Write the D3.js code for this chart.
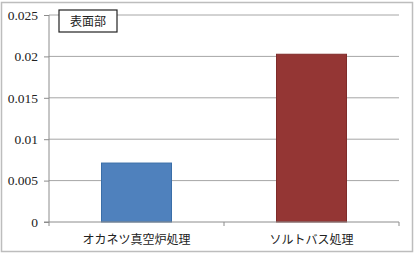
<!DOCTYPE html>
<html>
<head>
<meta charset="utf-8">
<script src="https://cdn.jsdelivr.net/npm/d3@7"></script>
<style>
  body { margin: 0; background: #fff; }
  svg { display: block; }
  .ytick text { font-family: "Liberation Serif", "Times New Roman", serif; font-size: 13.5px; }
</style>
</head>
<body>
<script>
var categories = ["オカネツ真空炉処理", "ソルトバス処理"];
var values = [0.00712, 0.02026];
var barColors = ["#4f81bd", "#943634"];
var barStroke = ["#3a6ea8", "#7f2b2a"];
var yTicks = [0, 0.005, 0.01, 0.015, 0.02, 0.025];
var legendLabel = "表面部";

var W = 420, H = 253;
var margin = {top: 15, right: 21, bottom: 31, left: 49},
    width = 399 - margin.left,
    height = 222 - margin.top;

var svg = d3.select("body").append("svg")
    .attr("width", W)
    .attr("height", H);

// outer frame
svg.append("rect")
    .attr("x", 1.5).attr("y", 2.5)
    .attr("width", 411).attr("height", 249)
    .attr("fill", "#fff")
    .attr("stroke", "#bdbdbd")
    .attr("stroke-width", 1.5);

var g = svg.append("g")
    .attr("transform", "translate(" + margin.left + "," + margin.top + ")");

var x = d3.scaleBand()
    .domain(categories)
    .range([0, width])
    .paddingInner(0.6)
    .paddingOuter(0.3);

var y = d3.scaleLinear()
    .domain([0, 0.025])
    .range([height, 0]);

// gridlines
g.selectAll("line.grid")
    .data(yTicks.filter(function(d) { return d > 0; }))
  .enter().append("line")
    .attr("class", "grid")
    .attr("x1", 0).attr("x2", width)
    .attr("y1", function(d) { return y(d); })
    .attr("y2", function(d) { return y(d); })
    .attr("stroke", "#a6a6a6")
    .attr("stroke-width", 1);

// bars
g.selectAll("rect.bar")
    .data(values)
  .enter().append("rect")
    .attr("class", "bar")
    .attr("x", function(d, i) { return x(categories[i]); })
    .attr("y", function(d) { return y(d); })
    .attr("width", x.bandwidth())
    .attr("height", function(d) { return height - y(d); })
    .attr("fill", function(d, i) { return barColors[i]; })
    .attr("stroke", function(d, i) { return barStroke[i]; })
    .attr("stroke-width", 1);

// y axis
var yAxis = g.append("g")
    .attr("class", "ytick")
    .call(d3.axisLeft(y).tickValues(yTicks).tickSize(5).tickPadding(6)
      .tickFormat(function(d) { return String(+d.toFixed(3)); }));
yAxis.attr("font-family", null).attr("font-size", null);
yAxis.select(".domain").attr("stroke", "#8c8c8c").attr("d", "M0," + height + "V0");
yAxis.selectAll(".tick line").attr("stroke", "#8c8c8c");
yAxis.selectAll("text")
    .attr("fill", "#222");

// x axis
var xEdges = [0, width / 2, width];
var xAxis = g.append("g")
    .attr("transform", "translate(0," + height + ")");
xAxis.append("line")
    .attr("x1", -5).attr("x2", width)
    .attr("stroke", "#8c8c8c");
xAxis.selectAll("line.tk")
    .data(xEdges)
  .enter().append("line")
    .attr("class", "tk")
    .attr("x1", function(d) { return d; })
    .attr("x2", function(d) { return d; })
    .attr("y1", 0).attr("y2", 4)
    .attr("stroke", "#8c8c8c");
xAxis.selectAll("text")
    .data(categories)
  .enter().append("text")
    .attr("x", function(d) { return x(d) + x.bandwidth() / 2; })
    .attr("y", 22)
    .attr("text-anchor", "middle")
    .attr("fill", "#222")
    .style("font-family", "'Noto Sans CJK JP', sans-serif")
    .style("font-size", "12px")
    .text(function(d) { return d; });

// label box
var lg = svg.append("g").attr("transform", "translate(59,10)");
lg.append("rect")
    .attr("width", 58).attr("height", 22)
    .attr("fill", "#fff")
    .attr("stroke", "#222")
    .attr("stroke-width", 1.2);
lg.append("text")
    .attr("x", 29).attr("y", 15.5)
    .attr("text-anchor", "middle")
    .attr("fill", "#222")
    .style("font-family", "'Noto Sans CJK JP', sans-serif")
    .style("font-size", "12px")
    .text(legendLabel);
</script>
</body>
</html>
